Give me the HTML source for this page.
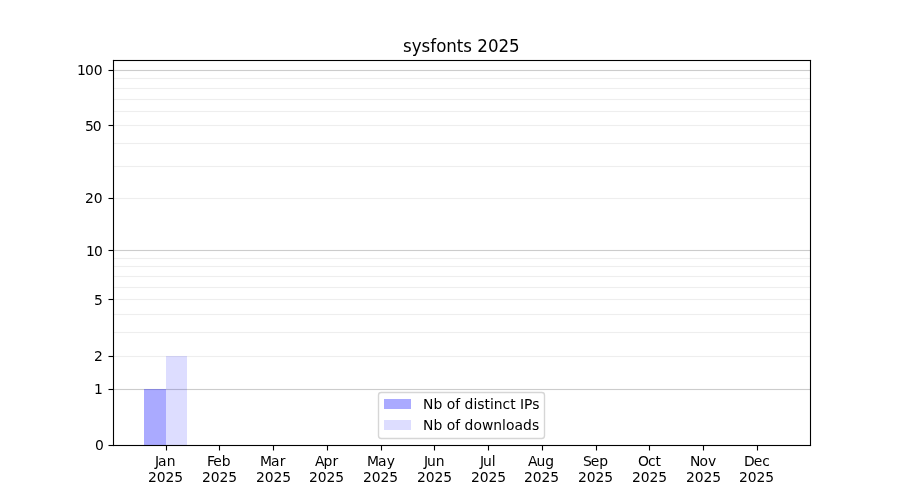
<!DOCTYPE html>
<html lang="en">
<head>
<meta charset="utf-8">
<title>sysfonts 2025</title>
<style>
html,body{margin:0;padding:0;background:#fff;}
body{width:900px;height:500px;overflow:hidden;}
svg{display:block;will-change:transform;}
text{font-family:"DejaVu Sans","Liberation Sans",sans-serif;font-size:13.889px;fill:#000;}
.title{font-size:16.667px;}
</style>
</head>
<body>
<svg width="900" height="500" viewBox="0 0 900 500">
<rect x="0" y="0" width="900" height="500" fill="#fff"/>
<!-- y grid: light lines at 2-9, 20-90; darker at 1, 10, 100 (log1p scale) -->
<g id="grid-minor" fill="#eeeeee">
<rect x="113" y="355.945" width="697" height="1.111"/>
<rect x="113" y="331.945" width="697" height="1.111"/>
<rect x="113" y="313.945" width="697" height="1.111"/>
<rect x="113" y="298.945" width="697" height="1.111"/>
<rect x="113" y="286.945" width="697" height="1.111"/>
<rect x="113" y="275.945" width="697" height="1.111"/>
<rect x="113" y="265.945" width="697" height="1.111"/>
<rect x="113" y="257.945" width="697" height="1.111"/>
<rect x="113" y="197.945" width="697" height="1.111"/>
<rect x="113" y="165.945" width="697" height="1.111"/>
<rect x="113" y="142.945" width="697" height="1.111"/>
<rect x="113" y="124.945" width="697" height="1.111"/>
<rect x="113" y="110.945" width="697" height="1.111"/>
<rect x="113" y="98.9445" width="697" height="1.111"/>
<rect x="113" y="87.9445" width="697" height="1.111"/>
<rect x="113" y="77.9445" width="697" height="1.111"/>
</g>
<g id="grid-major" fill="#cccccc">
<rect x="113" y="388.945" width="697" height="1.111"/>
<rect x="113" y="249.945" width="697" height="1.111"/>
<rect x="113" y="69.9445" width="697" height="1.111"/>
</g>
<!-- bars (January only) -->
<rect x="144" y="389" width="22" height="56.5" fill="#0000ff" fill-opacity="0.3333"/>
<rect x="166" y="356" width="21" height="89.5" fill="#0000ff" fill-opacity="0.1333"/>
<!-- ticks and axes spines -->
<g id="axes" fill="#000">
<rect x="108.5" y="444.945" width="5" height="1.111"/>
<rect x="108.5" y="388.945" width="5" height="1.111"/>
<rect x="108.5" y="355.945" width="5" height="1.111"/>
<rect x="108.5" y="298.945" width="5" height="1.111"/>
<rect x="108.5" y="249.945" width="5" height="1.111"/>
<rect x="108.5" y="197.945" width="5" height="1.111"/>
<rect x="108.5" y="124.945" width="5" height="1.111"/>
<rect x="108.5" y="69.9445" width="5" height="1.111"/>
<rect x="165.945" y="445.5" width="1.111" height="5"/>
<rect x="218.945" y="445.5" width="1.111" height="5"/>
<rect x="272.945" y="445.5" width="1.111" height="5"/>
<rect x="326.945" y="445.5" width="1.111" height="5"/>
<rect x="380.945" y="445.5" width="1.111" height="5"/>
<rect x="433.945" y="445.5" width="1.111" height="5"/>
<rect x="487.945" y="445.5" width="1.111" height="5"/>
<rect x="541.944" y="445.5" width="1.111" height="5"/>
<rect x="595.944" y="445.5" width="1.111" height="5"/>
<rect x="648.944" y="445.5" width="1.111" height="5"/>
<rect x="702.944" y="445.5" width="1.111" height="5"/>
<rect x="756.944" y="445.5" width="1.111" height="5"/>
<rect x="112.945" y="59.9445" width="1.111" height="386.111"/>
<rect x="809.944" y="59.9445" width="1.111" height="386.111"/>
<rect x="112.945" y="444.945" width="698.111" height="1.111"/>
<rect x="112.945" y="59.9445" width="698.111" height="1.111"/>
</g>
<!-- legend -->
<rect x="378.5" y="392.5" width="166" height="46" rx="2.78" ry="2.78" fill="#fff" fill-opacity="0.8" stroke="#cccccc" stroke-opacity="0.8" stroke-width="1.389"/>
<rect x="384" y="399" width="27" height="10" fill="#0000ff" fill-opacity="0.3333"/>
<rect x="384" y="420" width="27" height="10" fill="#0000ff" fill-opacity="0.1333"/>
<!-- tick labels, title, legend labels -->
<text x="155 158 166.625" y="466">Jan</text>
<text x="148 156.75 165.5 174.25" y="482">2025</text>
<text x="207 213.25 221.75" y="466">Feb</text>
<text x="202 210.75 219.5 228.25" y="482">2025</text>
<text x="260 271 279.625" y="466">Mar</text>
<text x="256 264.75 273.5 282.25" y="482">2025</text>
<text x="315 323.5 332.375" y="466">Apr</text>
<text x="309 317.75 326.5 335.25" y="482">2025</text>
<text x="367 378 386.625" y="466">May</text>
<text x="363 371.75 380.5 389.25" y="482">2025</text>
<text x="424 427 435.75" y="466">Jun</text>
<text x="417 425.75 434.5 443.25" y="482">2025</text>
<text x="480 483 491.75" y="466">Jul</text>
<text x="471 479.75 488.5 497.25" y="482">2025</text>
<text x="528 536.5 545.25" y="466">Aug</text>
<text x="524 532.75 541.5 550.25" y="482">2025</text>
<text x="583 590.75 599.25" y="466">Sep</text>
<text x="578 586.75 595.5 604.25" y="482">2025</text>
<text x="638 647.875 655.5" y="466">Oct</text>
<text x="632 640.75 649.5 658.25" y="482">2025</text>
<text x="690 699.375 707.875" y="466">Nov</text>
<text x="686 694.75 703.5 712.25" y="482">2025</text>
<text x="744 753.75 762.25" y="466">Dec</text>
<text x="739 747.75 756.5 765.25" y="482">2025</text>
<text x="95" y="450">0</text>
<text x="94" y="394">1</text>
<text x="94" y="361">2</text>
<text x="94" y="305">5</text>
<text x="86 93.875" y="256">10</text>
<text x="85 93.75" y="203">20</text>
<text x="85 92.75" y="131">50</text>
<text x="77 84.875 93.625" y="75">100</text>
<text class="title" transform="translate(0,52) scale(1,1.06)" x="403 411.75 421.625 430.375 436.25 446.375 456.875 463.375 472.125 477.375 488 498.5 509.125" y="0">sysfonts 2025</text>
<text x="423 433.375 442.25 446.625 455.125 460.125 464.5 473.375 477.25 484.375 489.875 493.75 502.5 510.125 515.625 520 524 532.125" y="409">Nb of distinct IPs</text>
<text x="423 433.375 442.25 446.625 455.125 460.125 464.5 473.375 481.875 493.25 502 505.875 514.375 523 531.875" y="430">Nb of downloads</text>
</svg>
</body>
</html>
